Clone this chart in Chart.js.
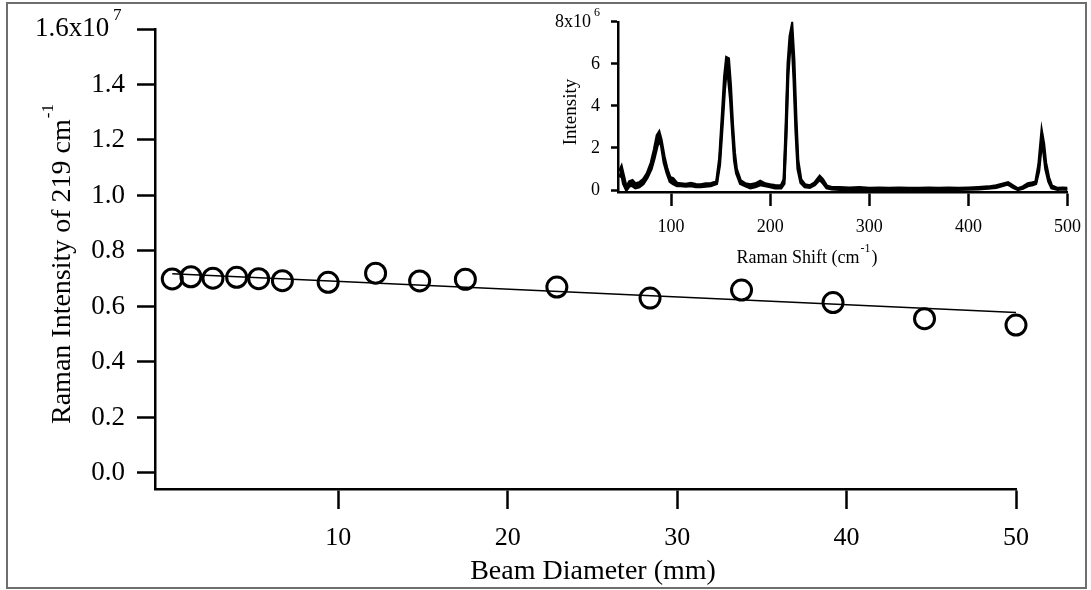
<!DOCTYPE html>
<html>
<head>
<meta charset="utf-8">
<script src="https://cdn.jsdelivr.net/npm/chart.js@4/dist/chart.umd.min.js"></script>
<style>
  body { margin: 0; background: #fff; }
  #wrap { position: relative; width: 1091px; height: 590px; }
  #main { position: absolute; left: 0; top: 0; }
  #inset { position: absolute; left: 520px; top: 0; }
  #frame { position: absolute; left: 6px; top: 2px; width: 1077px; height: 583px; border: 2px solid #6e6e6e; pointer-events: none; }
</style>
</head>
<body>
<div id="wrap">
  <canvas id="main" width="1091" height="590" style="width:1091px;height:590px"></canvas>
  <canvas id="inset" width="571" height="280" style="width:571px;height:280px"></canvas>
  <div id="frame"></div>
</div>
<script>
// Main plot: Raman intensity (x10^7) vs beam diameter
const beamDiameter = [0.2, 1.3, 2.6, 4.0, 5.3, 6.7, 9.4, 12.2, 14.8, 17.5, 22.9, 28.4, 33.8, 39.2, 44.6, 50.0];
const ramanIntensity = [0.699, 0.707, 0.702, 0.705, 0.700, 0.693, 0.687, 0.720, 0.692, 0.698, 0.670, 0.630, 0.659, 0.614, 0.556, 0.533];
const fitX = [0.2, 50.0];
const fitY = [0.718, 0.578];
const mainXTicks = [10, 20, 30, 40, 50];
const mainYTicks = [0, 0.2, 0.4, 0.6, 0.8, 1.0, 1.2, 1.4, 1.6];

// Inset: Raman spectrum (x10^6), two overlapping traces
const ramanShift = [48, 50, 52, 55, 58, 61, 64, 68, 72, 76, 80, 83, 86, 88, 90, 93, 96, 99, 102, 106, 110, 115, 120, 125, 130, 135, 140, 146,
  149, 152, 154, 156, 158, 160, 162, 164, 166, 170, 175, 180, 185, 190, 195, 200, 205, 211, 214, 216, 218, 220, 222, 224, 226, 228, 231,
  235, 240, 245, 250, 253, 257, 262, 270, 280, 290, 300, 310, 320, 330, 340, 350, 360, 370, 380, 390, 400, 410, 420, 428, 434, 440,
  445, 450, 455, 460, 465, 468, 471, 474, 476, 478, 481, 484, 490, 495, 500];
const intensityUpper = [0.9, 1.1, 0.7, 0.1, 0.4, 0.45, 0.3, 0.35, 0.5, 0.8, 1.3, 1.9, 2.6, 2.75, 2.4, 1.6, 1.0, 0.6, 0.55, 0.32, 0.3, 0.28, 0.32, 0.26, 0.25, 0.3, 0.3, 0.4,
  1.5, 3.8, 5.4, 6.3, 6.25, 5.0, 3.2, 1.8, 1.0, 0.45, 0.3, 0.25, 0.3, 0.42, 0.3, 0.25, 0.22, 0.2, 0.5, 3.0, 6.0, 7.3, 7.8, 6.2, 3.5, 1.4, 0.5,
  0.25, 0.2, 0.35, 0.65, 0.5, 0.2, 0.12, 0.12, 0.1, 0.12, 0.08, 0.1, 0.08, 0.1, 0.08, 0.09, 0.1, 0.08, 0.1, 0.09, 0.1, 0.12, 0.15, 0.2, 0.28, 0.35,
  0.2, 0.06, 0.15, 0.3, 0.35, 0.4, 1.2, 2.75, 2.2, 1.3, 0.6, 0.2, 0.08, 0.1, 0.08];
const intensityLower = [0.6, 0.8, 0.3, 0.0, 0.2, 0.2, 0.1, 0.15, 0.3, 0.6, 1.0, 1.5, 2.1, 2.3, 2.2, 1.3, 0.8, 0.4, 0.3, 0.2, 0.2, 0.18, 0.2, 0.15, 0.15, 0.18, 0.2, 0.3,
  1.2, 3.3, 4.8, 5.8, 5.3, 4.3, 2.8, 1.4, 0.8, 0.3, 0.2, 0.1, 0.15, 0.25, 0.2, 0.15, 0.1, 0.1, 0.3, 2.5, 5.5, 6.8, 7.2, 5.3, 2.8, 1.0, 0.35,
  0.15, 0.12, 0.25, 0.5, 0.35, 0.1, 0.05, 0.03, 0.03, 0.04, 0.02, 0.03, 0.02, 0.03, 0.02, 0.03, 0.03, 0.02, 0.03, 0.03, 0.04, 0.05, 0.08, 0.12, 0.2, 0.28,
  0.12, 0.02, 0.08, 0.2, 0.25, 0.3, 0.9, 2.3, 1.8, 1.0, 0.4, 0.1, 0.03, 0.05, 0.03];
const insetXTicks = [100, 200, 300, 400, 500];
const insetYTicks = [0, 2, 4, 6, 8];

const SERIF = '"Liberation Serif", "Times New Roman", serif';

const toPoints = (xs, ys) => xs.map((x, i) => ({ x, y: ys[i] }));

// Draw a string followed by a raised superscript (and an optional tail)
const drawSuper = (ctx, base, sup, tail, x, y, size, supSize, align) => {
  ctx.font = `${size}px ${SERIF}`;
  const wBase = ctx.measureText(base).width;
  const wTail = tail ? ctx.measureText(tail).width : 0;
  ctx.font = `${supSize}px ${SERIF}`;
  const wSup = ctx.measureText(sup).width;
  const total = wBase + wSup + 2 + wTail;
  let start = x;
  if (align === 'center') start = x - total / 2;
  ctx.textAlign = 'left';
  ctx.textBaseline = 'middle';
  ctx.font = `${size}px ${SERIF}`;
  ctx.fillText(base, start, y);
  ctx.font = `${supSize}px ${SERIF}`;
  ctx.fillText(sup, start + wBase + 1, y - size * 0.5);
  if (tail) {
    ctx.font = `${size}px ${SERIF}`;
    ctx.fillText(tail, start + wBase + wSup + 2, y);
  }
};

const axisStyle = (tickLength, fontSize, padding) => ({
  grid: { drawOnChartArea: false, drawTicks: true, tickLength, tickWidth: 2.5, tickColor: '#000', color: '#000' },
  border: { display: true, color: '#000', width: 2.5 },
  ticks: { color: '#000', font: { family: SERIF, size: fontSize }, padding, autoSkip: false, maxRotation: 0 },
});

const mainLabels = {
  id: 'mainLabels',
  afterDraw(chart) {
    const { ctx } = chart;
    ctx.save();
    ctx.fillStyle = '#000';
    // exponent of the top y tick
    ctx.font = `17px ${SERIF}`;
    ctx.textAlign = 'left';
    ctx.textBaseline = 'middle';
    ctx.fillText('7', 113, 16);
    // y title, rotated
    ctx.translate(63, 424);
    ctx.rotate(-Math.PI / 2);
    drawSuper(ctx, 'Raman Intensity of 219 cm', '-1', '', 0, 0, 28, 17, 'left');
    ctx.restore();
    ctx.save();
    ctx.fillStyle = '#000';
    ctx.font = `28px ${SERIF}`;
    ctx.textAlign = 'center';
    ctx.textBaseline = 'middle';
    ctx.fillText('Beam Diameter (mm)', 593, 572);
    ctx.restore();
  },
};

const insetLabels = {
  id: 'insetLabels',
  afterDraw(chart) {
    const { ctx } = chart;
    ctx.save();
    ctx.fillStyle = '#000';
    ctx.font = `12px ${SERIF}`;
    ctx.textAlign = 'left';
    ctx.textBaseline = 'middle';
    ctx.fillText('6', 74, 13);
    drawSuper(ctx, 'Raman Shift (cm', '-1', ')', 287, 258, 18, 12, 'center');
    ctx.translate(51, 112);
    ctx.rotate(-Math.PI / 2);
    ctx.font = `19px ${SERIF}`;
    ctx.textAlign = 'center';
    ctx.fillText('Intensity', 0, 0);
    ctx.restore();
  },
};

const mainX = axisStyle(20, 26, 14);
const mainY = axisStyle(18, 27, 12);

new Chart(document.getElementById('main'), {
  type: 'scatter',
  data: {
    datasets: [
      {
        data: toPoints(fitX, fitY),
        showLine: true,
        borderColor: '#000',
        borderWidth: 1.5,
        pointRadius: 0,
        tension: 0,
      },
      {
        data: toPoints(beamDiameter, ramanIntensity),
        pointRadius: 10,
        pointBorderWidth: 3,
        borderColor: '#000',
        backgroundColor: 'rgba(0,0,0,0)',
        pointBackgroundColor: 'rgba(0,0,0,0)',
        clip: false,
      },
    ],
  },
  options: {
    responsive: false,
    animation: false,
    layout: { padding: { left: 0, top: 29, right: 75, bottom: 0 } },
    scales: {
      x: {
        type: 'linear',
        min: -0.82,
        max: 50,
        ...mainX,
        ticks: { ...mainX.ticks, callback: v => String(v) },
        afterBuildTicks: s => { s.ticks = mainXTicks.map(v => ({ value: v })); },
        afterFit: s => { s.height = 101; },
      },
      y: {
        type: 'linear',
        min: -0.058,
        max: 1.6,
        ...mainY,
        ticks: { ...mainY.ticks, callback: v => (v === 1.6 ? '1.6x10\u2002\u200A' : v.toFixed(1)) },
        afterBuildTicks: s => { s.ticks = mainYTicks.map(v => ({ value: v })); },
        afterFit: s => { s.width = 155; },
      },
    },
    plugins: { legend: { display: false }, tooltip: { enabled: false } },
  },
  plugins: [mainLabels],
});

const insetX = axisStyle(14, 18, 10);
const insetY = axisStyle(7, 18, 11);

new Chart(document.getElementById('inset'), {
  type: 'scatter',
  data: {
    datasets: [
      {
        data: toPoints(ramanShift, intensityUpper),
        showLine: true,
        borderColor: '#000',
        borderWidth: 3,
        pointRadius: 0,
        tension: 0,
      },
      {
        data: toPoints(ramanShift, intensityLower),
        showLine: true,
        borderColor: '#000',
        borderWidth: 3,
        pointRadius: 0,
        tension: 0,
        fill: '-1',
        backgroundColor: '#000',
      },
    ],
  },
  options: {
    responsive: false,
    animation: false,
    layout: { padding: { left: 0, top: 20, right: 19, bottom: 0 } },
    scales: {
      x: {
        type: 'linear',
        min: 46.5,
        max: 500,
        ...insetX,
        ticks: { ...insetX.ticks, callback: v => String(v) },
        afterBuildTicks: s => { s.ticks = insetXTicks.map(v => ({ value: v })); },
        afterFit: s => { s.height = 88; },
      },
      y: {
        type: 'linear',
        min: -0.094,
        max: 8,
        ...insetY,
        ticks: { ...insetY.ticks, callback: v => (v === 8 ? '8x10\u2002' : String(v)) },
        afterBuildTicks: s => { s.ticks = insetYTicks.map(v => ({ value: v })); },
        afterFit: s => { s.width = 98; },
      },
    },
    plugins: { legend: { display: false }, tooltip: { enabled: false } },
  },
  plugins: [insetLabels],
});
</script>
</body>
</html>
